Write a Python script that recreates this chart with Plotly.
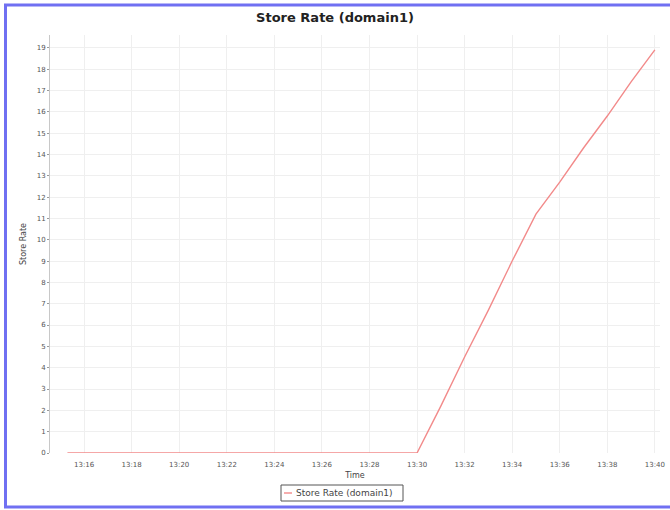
import plotly.graph_objects as go

times = ["13:15:18", "13:16", "13:17", "13:18", "13:19", "13:20", "13:21", "13:22", "13:23",
         "13:24", "13:25", "13:26", "13:27", "13:28", "13:29", "13:30", "13:31", "13:32",
         "13:33", "13:34", "13:35", "13:36", "13:37", "13:38", "13:39", "13:40"]
store_rate = [0, 0, 0, 0, 0, 0, 0, 0, 0, 0, 0, 0, 0, 0, 0, 0,
              2.2, 4.5, 6.7, 9.0, 11.2, 12.7, 14.3, 15.8, 17.4, 18.9]
tick_labels = ["13:16", "13:18", "13:20", "13:22", "13:24", "13:26", "13:28",
               "13:30", "13:32", "13:34", "13:36", "13:38", "13:40"]
y_ticks = list(range(0, 20))
series_name = "Store Rate (domain1)"

day = "2020-01-01 "
xs = [day + t for t in times]
tickvals = [day + t for t in tick_labels]

LINE_COLOR = "#f28a8a"

fig = go.Figure()
fig.add_trace(go.Scatter(x=xs, y=store_rate, mode="lines", name=series_name,
                         line=dict(color=LINE_COLOR, width=1.4), showlegend=False))

# plot area in pixels: x 50..660, y 35..453
def px(x):
    return (x - 50) / 610

def py(y):
    return (453 - y) / 418

fig.update_layout(
    width=670, height=510,
    margin=dict(l=50, r=10, t=35, b=57, autoexpand=False),
    paper_bgcolor="white", plot_bgcolor="white",
    font=dict(family="DejaVu Sans", color="#444"),
    title=dict(text="<b>Store Rate (domain1)</b>", x=0.5, xanchor="center",
               y=1 - 17 / 510, yanchor="middle",
               font=dict(size=13, color="#222")),
    showlegend=False,
    xaxis=dict(type="date", range=[day + "13:14:34", day + "13:40:13"],
               tickvals=tickvals, ticktext=tick_labels,
               tickfont=dict(size=7, color="#555"),
               ticks="outside", ticklen=5, tickcolor="rgba(0,0,0,0)",
               showgrid=True, gridcolor="#efefef", gridwidth=1,
               zeroline=False, showline=False,
               title=dict(text="Time", font=dict(size=8, color="#444"), standoff=3)),
    yaxis=dict(range=[0, 19.6], tickvals=y_ticks,
               tickfont=dict(size=7, color="#555"),
               ticks="outside", ticklen=2, tickcolor="#999",
               showgrid=True, gridcolor="#efefef", gridwidth=1,
               zeroline=False, showline=True, linecolor="#c8c8c8", linewidth=1,
               title=dict(text="Store Rate", font=dict(size=8, color="#444"), standoff=8)),
)

# legend box (drawn manually for compact size)
fig.add_shape(type="rect", xref="paper", yref="paper",
              x0=px(281), x1=px(403), y0=py(485), y1=py(501),
              line=dict(color="#555", width=1), fillcolor="white")
fig.add_shape(type="line", xref="paper", yref="paper",
              x0=px(284), x1=px(292), y0=py(493), y1=py(493),
              line=dict(color=LINE_COLOR, width=1.4))
fig.add_annotation(text=series_name, xref="paper", yref="paper",
                   x=px(294), y=py(493), xanchor="left", yanchor="middle",
                   showarrow=False, font=dict(size=9, color="#444"))

# outer blue frame
fig.add_shape(type="rect", xref="paper", yref="paper",
              x0=px(5.5), x1=px(680), y0=py(507), y1=py(5),
              line=dict(color="#7070f2", width=3), fillcolor="rgba(0,0,0,0)", layer="above")

fig.write_html("out.html", config={"displayModeBar": False},
               post_script="document.body.style.margin='0';document.body.style.padding='0';document.body.style.overflow='hidden';")
